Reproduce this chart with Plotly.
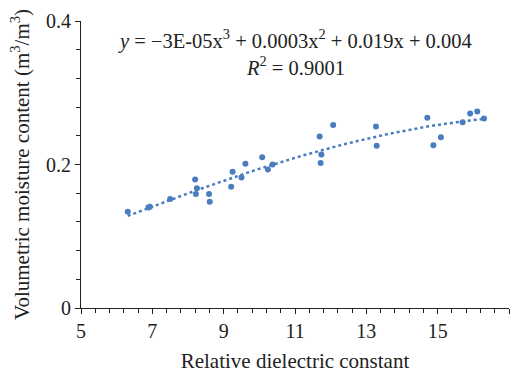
import numpy as np
import plotly.graph_objects as go

# Data
dielectric = [6.31, 6.89, 6.93, 7.50, 8.20, 8.25, 8.22, 8.59, 8.61, 9.21, 9.25, 9.50,
              9.61, 10.08, 10.24, 10.37, 11.69, 11.74, 11.72, 12.07, 13.27, 13.29,
              14.71, 14.88, 15.09, 15.70, 15.91, 16.11, 16.30]
moisture = [0.134, 0.140, 0.141, 0.152, 0.179, 0.167, 0.159, 0.159, 0.148, 0.169, 0.190, 0.182,
            0.201, 0.210, 0.193, 0.200, 0.239, 0.214, 0.202, 0.255, 0.253, 0.226,
            0.265, 0.227, 0.238, 0.259, 0.271, 0.274, 0.264]

# Trendline coefficients as displayed (cubic: a3, a2, a1, a0)
trend_coefs = [-3e-05, 0.0003, 0.019, 0.004]
eq_text = "<i>y</i> = −3E-05x<sup>3</sup> + 0.0003x<sup>2</sup> + 0.019x + 0.004"
r2_text = "<i>R</i><sup>2</sup> = 0.9001"

x_ticks = [5, 7, 9, 11, 13, 15, 17]
y_ticks = [0, 0.2, 0.4]

blue = "#4a7cc0"
font_family = "Liberation Serif"
txt = "#222"

xt = np.linspace(min(dielectric), max(dielectric), 200)
yt = np.polyval(trend_coefs, xt)

fig = go.Figure()
fig.add_trace(go.Scatter(x=xt, y=yt, mode="lines",
                         line=dict(color=blue, width=2.5, dash="dot"),
                         hoverinfo="skip", showlegend=False))
fig.add_trace(go.Scatter(x=dielectric, y=moisture, mode="markers",
                         marker=dict(color=blue, size=6), showlegend=False))

axis_common = dict(showgrid=False, zeroline=False, showline=True, linecolor=txt,
                   linewidth=1, ticks="outside", ticklen=5, tickcolor=txt, automargin=False,
                   tickfont=dict(family=font_family, size=20, color=txt))

fig.update_xaxes(range=[5, 17], tickvals=x_ticks, ticktext=[str(v) for v in x_ticks],
                 minor=dict(dtick=0.4, tick0=5, ticks="outside", ticklen=4, tickcolor=txt),
                 title=dict(text="Relative dielectric constant",
                            font=dict(family=font_family, size=21, color=txt), standoff=12),
                 **axis_common)
fig.update_yaxes(range=[0, 0.4], tickvals=y_ticks, ticktext=["0", "0.2", "0.4"],
                 minor=dict(dtick=0.04, tick0=0, ticks="outside", ticklen=4, tickcolor=txt),
                 title=dict(text="Volumetric moisture content (m<sup>3</sup>/m<sup>3</sup>)",
                            font=dict(family=font_family, size=21, color=txt), standoff=10),
                 **axis_common)

fig.add_annotation(xref="paper", yref="paper", x=0.5, y=0.935, text=eq_text, showarrow=False,
                   font=dict(family=font_family, size=20.5, color=txt), xanchor="center", yanchor="middle")
fig.add_annotation(xref="paper", yref="paper", x=0.5, y=0.843, text=r2_text, showarrow=False,
                   font=dict(family=font_family, size=20.5, color=txt), xanchor="center", yanchor="middle")

fig.update_layout(width=518, height=381, margin=dict(l=81, r=9, t=21, b=73),
                  plot_bgcolor="white", paper_bgcolor="white")

fig.write_html("out.html")
